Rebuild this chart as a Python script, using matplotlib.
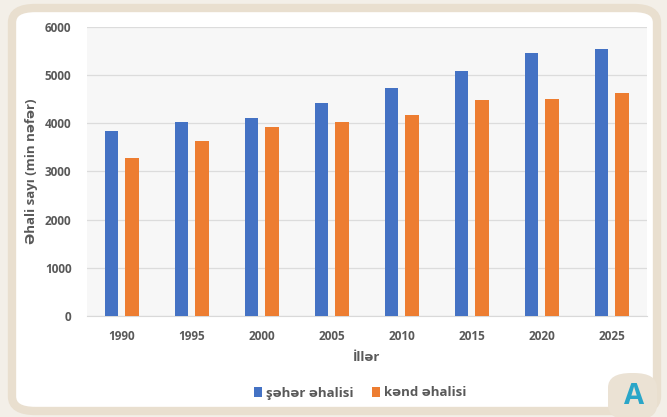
import numpy as np
import matplotlib.pyplot as plt
from matplotlib.patches import FancyBboxPatch

years = ['1990', '1995', '2000', '2005', '2010', '2015', '2020', '2025']
urban = [3850, 4020, 4110, 4430, 4730, 5090, 5470, 5540]
rural = [3290, 3640, 3920, 4020, 4180, 4490, 4500, 4630]

BLUE = '#4472c4'
ORANGE = '#ed7d31'
TEXT = '#595959'
W, H = 667, 417

plt.rcParams['font.family'] = ['Open Sans', 'DejaVu Sans']

fig = plt.figure(figsize=(W / 100, H / 100), dpi=100)
fig.patch.set_facecolor('#f3efe8')

def px(x0, y0, x1, y1):
    # pixel box (top-left origin) -> figure fraction
    return x0 / W, 1 - y1 / H, (x1 - x0) / W, (y1 - y0) / H

# card with beige frame
x, y, w, h = px(12, 8, 657, 411)
fig.patches.append(FancyBboxPatch((x, y), w, h, boxstyle='round,pad=0,rounding_size=0.035',
                                  transform=fig.transFigure, facecolor='white',
                                  edgecolor='#e9dfcf', linewidth=6, zorder=-2))
# badge in the corner
x, y, w, h = px(608, 373, 657, 420)
fig.patches.append(FancyBboxPatch((x, y), w, h, boxstyle='round,pad=0,rounding_size=0.035',
                                  transform=fig.transFigure, facecolor='#ebe2d4',
                                  edgecolor='none', zorder=-1))
fig.text(634 / W, 1 - 396 / H, 'A', color='#2aa6c8', fontsize=21, fontweight='bold',
         ha='center', va='center', family='Open Sans')

ax = fig.add_axes(px(86.8, 27, 646.8, 316))
ax.set_zorder(1)
ax.set_facecolor('#f7f7f7')

xs = np.arange(len(years))
bw = 0.19
ax.bar(xs - 0.145, urban, bw, color=BLUE, label='şəhər əhalisi', zorder=3)
ax.bar(xs + 0.145, rural, bw, color=ORANGE, label='kənd əhalisi', zorder=3)

ax.set_xlim(-0.5, len(years) - 0.5)
ax.set_ylim(0, 6000)
ax.set_yticks(range(0, 6001, 1000))
ax.set_xticks(xs)
ax.set_xticklabels(years)
ax.yaxis.grid(True, color='#dcdcdc', linewidth=0.9, zorder=0)
for s in ['top', 'right', 'left']:
    ax.spines[s].set_visible(False)
ax.spines['bottom'].set_color('#d9d9d9')
ax.tick_params(length=0, colors=TEXT, labelsize=8.5)
ax.tick_params(axis='x', pad=10)
ax.tick_params(axis='y', pad=11)
for lab in ax.get_xticklabels() + ax.get_yticklabels():
    lab.set_fontweight('bold')

ax.set_ylabel('Əhali sayı (min nəfər)', color=TEXT, fontsize=9.5, fontweight='bold', labelpad=5)
ax.set_xlabel('İllər', color=TEXT, fontsize=9.5, fontweight='bold', labelpad=6)

fig.legend(loc='center', bbox_to_anchor=(360 / W, 1 - 393 / H), ncol=2, frameon=False,
           handlelength=0.6, handleheight=0.7, handletextpad=0.3,
           columnspacing=1.4, labelcolor=TEXT, prop={'weight': 'bold', 'size': 9.5})

fig.savefig('out.png', dpi=100, facecolor=fig.get_facecolor())
